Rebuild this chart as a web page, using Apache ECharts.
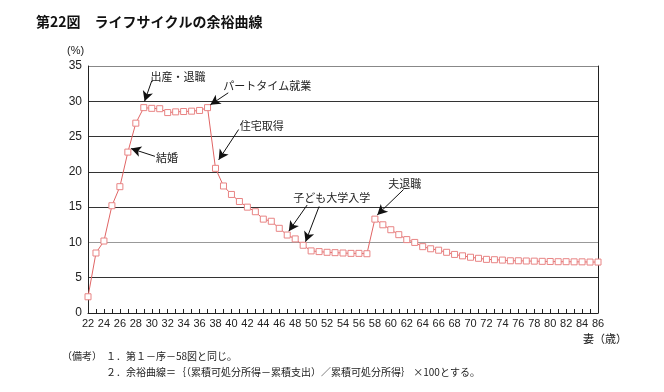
<!DOCTYPE html>
<html><head><meta charset="utf-8">
<script src="https://cdn.jsdelivr.net/npm/echarts@6/dist/echarts.min.js"></script>
<style>html,body{margin:0;padding:0;background:#fff}#c{width:664px;height:392px}</style>
</head><body><div id="c"></div>
<script>
const ages = [22,23,24,25,26,27,28,29,30,31,32,33,34,35,36,37,38,39,40,41,42,43,44,45,46,47,48,49,50,51,52,53,54,55,56,57,58,59,60,61,62,63,64,65,66,67,68,69,70,71,72,73,74,75,76,77,78,79,80,81,82,83,84,85,86];
const yoyu = [2.3,8.5,10.2,15.2,17.9,22.8,26.9,29.1,29.0,28.95,28.4,28.5,28.55,28.6,28.7,29.1,
  20.5,18.0,16.8,15.8,15.0,14.35,13.3,13.0,12.0,11.05,10.5,9.6,8.8,8.7,8.6,8.55,8.5,8.45,8.45,8.4,
  13.3,12.5,11.8,11.1,10.4,10.0,9.4,9.1,8.9,8.6,8.3,8.1,7.9,7.75,7.6,7.55,7.5,7.4,7.4,7.37,7.35,7.32,7.3,7.27,7.27,7.25,7.25,7.22,7.22];
const yTicks = [0,5,10,15,20,25,30,35];
// annotation texts with label anchor and arrow (start -> tip) in data coordinates
const noteTexts = ['出産・退職','パートタイム就業','住宅取得','結婚','子ども大学入学','夫退職'];
const noteLabelAt = [[33.3,33.5],[44.5,32.2],[43.8,26.5],[31.9,22.0],[52.6,16.3],[61.75,18.3]];
const arrows = [
  [[30.0,32.9],[29.1,30.0]],
  [[39.6,31.2],[37.35,29.5]],
  [[40.9,26.0],[38.4,21.7]],
  [[30.4,22.2],[27.4,23.3]],
  [[49.5,15.3],[47.2,11.6]],
  [[51.0,15.1],[49.3,10.1]],
  [[61.6,17.5],[58.3,13.9]]
];
const chart = echarts.init(document.getElementById('c'));
const num = 'Liberation Sans, Arial, sans-serif';
const jp = '"Noto Sans CJK JP", sans-serif';
chart.setOption({
  animation:false,
  grid:{left:88,right:66,top:66,bottom:79},
  xAxis:{type:'value',min:22,max:86,interval:2,
    axisLine:{lineStyle:{color:'#222',width:1}},
    axisTick:{inside:true,length:4,lineStyle:{color:'#222'}},
    minorTick:{show:true,splitNumber:2,length:4,lineStyle:{color:'#222'}},
    splitLine:{show:false},
    axisLabel:{fontFamily:num,fontSize:11,color:'#222',margin:5}},
  yAxis:[{type:'value',min:0,max:35,interval:5,
    axisLine:{show:true,lineStyle:{color:'#222'}},
    axisTick:{show:false},
    axisLabel:{fontFamily:num,fontSize:12,color:'#222',margin:6},
    splitLine:{show:true,lineStyle:{color:['#333','#333','#999','#333','#333','#333','#333','#888'],width:1}}},
    {type:'value',min:0,max:35,interval:5,position:'right',
    axisLine:{show:true,lineStyle:{color:'#222'}},axisTick:{show:false},axisLabel:{show:false},splitLine:{show:false}}],
  series:[{type:'line',data:ages.map((a,i)=>[a,yoyu[i]]),
    symbol:'rect',symbolSize:6,
    lineStyle:{color:'#e06464',width:1},
    itemStyle:{color:'#fff',borderColor:'#e88484',borderWidth:1},
    z:3,
    markLine:{silent:true,symbol:['none','arrow'],symbolSize:[8,10],
      lineStyle:{color:'#111',width:1,type:'solid'},label:{show:false},
      data:arrows.map(a=>[{coord:a[0]},{coord:a[1]}])},
    markPoint:{silent:true,symbol:'rect',symbolSize:1,itemStyle:{color:'rgba(0,0,0,0)'},
      label:{show:true,position:'inside',fontFamily:jp,fontSize:11,color:'#222'},
      data:noteTexts.map((t,i)=>({coord:noteLabelAt[i],value:t,label:{formatter:t}}))}
  }],
  graphic:[
    {type:'text',left:36,top:15,style:{text:'第22図　ライフサイクルの余裕曲線',font:'bold 14px "Noto Sans CJK JP"',fill:'#111'}},
    {type:'text',left:67,top:45,style:{text:'(%)',font:'11px '+num,fill:'#222'}},
    {type:'text',left:583,top:333,style:{text:'妻（歳）',font:'11px "Noto Sans CJK JP"',fill:'#222'}},
    {type:'text',left:62,top:351,style:{text:'（備考）',font:'10px "Noto Sans CJK JP"',fill:'#222'}},
    {type:'text',left:106,top:351,style:{text:'１．第１－序－58図と同じ。',font:'10px "Noto Sans CJK JP"',fill:'#222'}},
    {type:'text',left:106,top:367,style:{text:'２．余裕曲線＝｛（累積可処分所得－累積支出）／累積可処分所得｝ ×100とする。',font:'10px "Noto Sans CJK JP"',fill:'#222'}}
  ]
});
</script></body></html>
